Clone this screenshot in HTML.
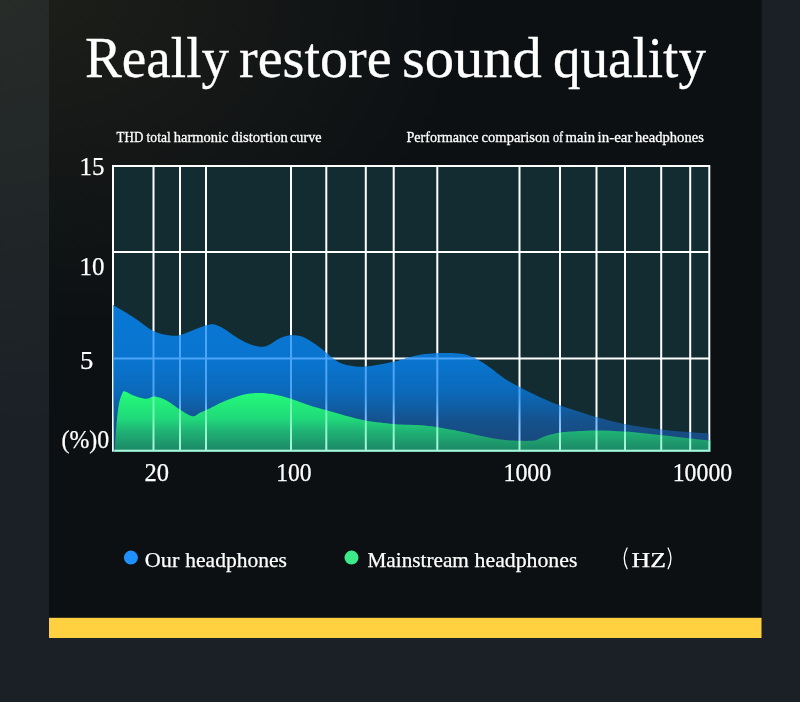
<!DOCTYPE html>
<html><head><meta charset="utf-8"><title>Really restore sound quality</title>
<style>
html,body{margin:0;padding:0;}
body{width:800px;height:702px;overflow:hidden;background:#1a2026;font-family:"Liberation Serif",serif;}
svg{display:block;}
text{font-family:"Liberation Serif",serif;fill:#fff;}
svg{will-change:transform;}
</style></head><body>
<svg width="800" height="702" viewBox="0 0 800 702">
<defs>
<radialGradient id="obg" cx="0" cy="0" r="1" gradientUnits="userSpaceOnUse" gradientTransform="translate(0 0) scale(400 430)">
<stop offset="0" stop-color="#272c29"/><stop offset="1" stop-color="#1a2026"/>
</radialGradient>
<radialGradient id="pbg" cx="0" cy="0" r="1" gradientUnits="userSpaceOnUse" gradientTransform="translate(49 0) scale(420 330)">
<stop offset="0" stop-color="#1c1e19"/><stop offset="1" stop-color="#0c1013"/>
</radialGradient>
<linearGradient id="bg" x1="0" y1="305" x2="0" y2="451" gradientUnits="userSpaceOnUse">
<stop offset="0" stop-color="#0878d6"/><stop offset="0.40" stop-color="#0974ce"/><stop offset="0.6" stop-color="#0b69b9"/><stop offset="0.8" stop-color="#15518c"/><stop offset="1" stop-color="#1a4676"/>
</linearGradient>
<linearGradient id="gg" x1="0" y1="392" x2="0" y2="451" gradientUnits="userSpaceOnUse">
<stop offset="0" stop-color="#23fb78"/><stop offset="0.45" stop-color="#20da7a"/><stop offset="0.65" stop-color="#1fb576"/><stop offset="0.85" stop-color="#1e9a6d"/><stop offset="1" stop-color="#1c8865"/>
</linearGradient>
<clipPath id="cb"><path d="M113.0 305.0 C116.5 307.1 127.4 313.4 134.2 317.8 C141.0 322.2 147.5 328.2 153.6 331.2 C159.7 334.1 166.1 334.9 170.5 335.5 C174.9 336.1 176.2 336.0 180.2 335.0 C184.2 334.0 190.3 331.1 194.7 329.5 C199.1 327.9 203.6 326.1 206.8 325.3 C210.0 324.5 211.3 324.0 214.1 324.6 C216.9 325.2 219.8 326.4 223.8 328.7 C227.8 331.0 233.5 335.6 238.3 338.4 C243.1 341.1 248.8 343.8 252.8 345.2 C256.8 346.6 259.7 346.9 262.5 346.8 C265.3 346.7 266.9 345.9 269.7 344.5 C272.5 343.1 275.8 339.9 279.4 338.4 C283.0 336.9 287.5 335.5 291.5 335.3 C295.5 335.1 299.6 335.7 303.6 337.2 C307.6 338.7 311.9 341.9 315.7 344.5 C319.5 347.1 323.0 350.1 326.6 352.9 C330.2 355.7 333.7 359.3 337.5 361.4 C341.3 363.5 345.2 364.6 349.6 365.5 C354.0 366.4 358.9 366.9 364.1 366.7 C369.3 366.5 375.4 365.3 381.0 364.3 C386.6 363.3 393.2 361.9 398.0 360.7 C402.8 359.5 405.6 358.4 410.0 357.3 C414.4 356.2 418.4 354.8 424.5 354.1 C430.6 353.4 439.8 352.9 446.3 352.9 C452.8 352.9 458.1 353.0 463.3 354.1 C468.6 355.2 473.4 357.5 477.8 359.7 C482.2 361.9 485.5 364.4 489.9 367.5 C494.3 370.6 499.6 375.2 504.4 378.4 C509.2 381.6 513.6 384.0 518.9 386.8 C524.1 389.6 529.8 392.5 535.9 395.3 C542.0 398.1 548.4 401.2 555.2 403.8 C562.0 406.4 570.0 408.8 576.9 411.0 C583.8 413.2 588.2 414.9 596.3 417.1 C604.4 419.3 614.5 422.2 625.4 424.3 C636.3 426.4 650.8 428.4 661.7 429.7 C672.6 431.0 682.9 431.7 690.7 432.3 C698.5 432.9 705.4 433.1 708.3 433.3 L708.3 452 L113 452 Z"/></clipPath>
<clipPath id="cg"><path d="M114.6 451.0 C114.7 449.2 115.0 444.2 115.3 440.0 C115.6 435.8 115.8 431.4 116.4 425.6 C117.0 419.8 117.8 410.3 118.7 405.0 C119.7 399.7 121.0 396.0 122.1 393.7 C123.1 391.4 123.1 391.1 125.0 391.4 C126.9 391.7 130.6 394.3 133.5 395.4 C136.4 396.5 140.1 397.7 142.6 398.2 C145.1 398.7 146.8 398.8 148.3 398.6 C149.8 398.4 150.5 397.4 151.8 397.1 C153.1 396.8 154.0 396.3 156.3 396.8 C158.6 397.3 161.7 397.9 165.7 400.1 C169.7 402.3 176.2 407.2 180.2 409.8 C184.2 412.4 187.5 414.4 189.9 415.4 C192.3 416.4 193.1 416.3 194.7 415.9 C196.3 415.5 197.6 414.0 199.6 413.0 C201.6 412.0 202.8 411.7 206.8 409.8 C210.8 407.9 217.8 403.9 223.8 401.4 C229.9 398.9 237.4 396.2 243.1 394.8 C248.8 393.4 252.9 393.0 257.7 392.9 C262.5 392.8 266.5 393.1 272.1 394.1 C277.7 395.1 285.4 397.1 291.5 398.9 C297.6 400.7 302.5 403.1 308.4 405.0 C314.2 406.9 320.6 408.6 326.6 410.3 C332.7 412.0 338.1 413.7 344.7 415.4 C351.3 417.1 358.4 419.3 366.5 420.7 C374.6 422.1 385.9 423.2 393.1 423.9 C400.4 424.6 404.8 424.5 410.0 424.8 C415.2 425.1 419.7 425.2 424.5 425.6 C429.3 426.1 433.4 426.6 439.0 427.5 C444.6 428.4 451.9 429.8 458.4 431.1 C464.9 432.4 471.4 433.9 477.8 435.2 C484.2 436.5 491.1 438.0 497.1 438.9 C503.2 439.8 508.0 440.3 514.1 440.6 C520.2 440.9 528.7 441.2 533.5 440.6 C538.3 440.0 539.5 438.1 543.1 436.9 C546.7 435.7 550.7 434.4 555.2 433.5 C559.7 432.6 563.1 432.1 570.0 431.6 C576.9 431.1 587.1 430.4 596.3 430.4 C605.5 430.4 614.5 430.8 625.4 431.6 C636.3 432.4 650.8 434.1 661.7 435.2 C672.6 436.3 682.6 437.5 690.7 438.4 C698.8 439.3 707.2 440.2 710.5 440.6 L710.5 452 L114.6 452 Z"/></clipPath>
<linearGradient id="bl" x1="0" y1="305" x2="0" y2="451" gradientUnits="userSpaceOnUse">
<stop offset="0" stop-color="#48a8ff"/><stop offset="0.62" stop-color="#4ea2f4"/><stop offset="0.83" stop-color="#86c2fc"/><stop offset="1" stop-color="#a8d4ff"/>
</linearGradient>
<linearGradient id="gl" x1="0" y1="392" x2="0" y2="451" gradientUnits="userSpaceOnUse">
<stop offset="0" stop-color="#5cf7a2"/><stop offset="1" stop-color="#aaf5da"/>
</linearGradient>
</defs>
<rect width="800" height="702" fill="#1a2026"/>
<rect width="800" height="702" fill="url(#obg)"/>
<rect x="49" y="0" width="712.5" height="618" fill="#0c1013"/>
<rect x="49" y="0" width="712.5" height="618" fill="url(#pbg)"/>
<rect x="49" y="617.8" width="712.5" height="20.2" fill="#ffd03f"/>

<g font-size="57.6" stroke="#fff" stroke-width="0.3">
<text x="85.04" y="77.2" textLength="144.09" lengthAdjust="spacingAndGlyphs">Really</text>
<text x="239.03" y="77.2" textLength="152.63" lengthAdjust="spacingAndGlyphs">restore</text>
<text x="401.97" y="77.2" textLength="139.85" lengthAdjust="spacingAndGlyphs">sound</text>
<text x="552.89" y="77.2" textLength="153.08" lengthAdjust="spacingAndGlyphs">quality</text>
</g>
<g font-size="15" stroke="#fff" stroke-width="0.3">
<text x="116.60" y="141.7" textLength="26.75" lengthAdjust="spacingAndGlyphs">THD</text>
<text x="146.60" y="141.7" textLength="24.10" lengthAdjust="spacingAndGlyphs">total</text>
<text x="173.80" y="141.7" textLength="54.67" lengthAdjust="spacingAndGlyphs">harmonic</text>
<text x="231.60" y="141.7" textLength="56.30" lengthAdjust="spacingAndGlyphs">distortion</text>
<text x="290.10" y="141.7" textLength="31.39" lengthAdjust="spacingAndGlyphs">curve</text>
<text x="406.40" y="141.7" textLength="72.26" lengthAdjust="spacingAndGlyphs">Performance</text>
<text x="481.60" y="141.7" textLength="67.98" lengthAdjust="spacingAndGlyphs">comparison</text>
<text x="553.00" y="141.7" textLength="10.19" lengthAdjust="spacingAndGlyphs">of</text>
<text x="565.60" y="141.7" textLength="29.40" lengthAdjust="spacingAndGlyphs">main</text>
<text x="597.60" y="141.7" textLength="34.78" lengthAdjust="spacingAndGlyphs">in-ear</text>
<text x="635.00" y="141.7" textLength="68.82" lengthAdjust="spacingAndGlyphs">headphones</text>
</g>

<rect x="113" y="166" width="596.3" height="284.7" fill="#122c32"/>
<g id="grid" stroke-width="2" fill="none">
<line x1="153.5" y1="166" x2="153.5" y2="450.7"/><line x1="180.0" y1="166" x2="180.0" y2="450.7"/><line x1="206.0" y1="166" x2="206.0" y2="450.7"/><line x1="291.0" y1="166" x2="291.0" y2="450.7"/><line x1="326.3" y1="166" x2="326.3" y2="450.7"/><line x1="365.8" y1="166" x2="365.8" y2="450.7"/><line x1="393.7" y1="166" x2="393.7" y2="450.7"/><line x1="437.3" y1="166" x2="437.3" y2="450.7"/><line x1="519.5" y1="166" x2="519.5" y2="450.7"/><line x1="560.0" y1="166" x2="560.0" y2="450.7"/><line x1="596.5" y1="166" x2="596.5" y2="450.7"/><line x1="625.0" y1="166" x2="625.0" y2="450.7"/><line x1="661.2" y1="166" x2="661.2" y2="450.7"/><line x1="690.2" y1="166" x2="690.2" y2="450.7"/><line x1="113" y1="252.0" x2="709.3" y2="252.0"/><line x1="113" y1="358.6" x2="709.3" y2="358.6"/>
<rect x="113" y="166" width="596.3" height="284.7"/>
</g>
<use href="#grid" stroke="#fff"/>
<path d="M113.0 305.0 C116.5 307.1 127.4 313.4 134.2 317.8 C141.0 322.2 147.5 328.2 153.6 331.2 C159.7 334.1 166.1 334.9 170.5 335.5 C174.9 336.1 176.2 336.0 180.2 335.0 C184.2 334.0 190.3 331.1 194.7 329.5 C199.1 327.9 203.6 326.1 206.8 325.3 C210.0 324.5 211.3 324.0 214.1 324.6 C216.9 325.2 219.8 326.4 223.8 328.7 C227.8 331.0 233.5 335.6 238.3 338.4 C243.1 341.1 248.8 343.8 252.8 345.2 C256.8 346.6 259.7 346.9 262.5 346.8 C265.3 346.7 266.9 345.9 269.7 344.5 C272.5 343.1 275.8 339.9 279.4 338.4 C283.0 336.9 287.5 335.5 291.5 335.3 C295.5 335.1 299.6 335.7 303.6 337.2 C307.6 338.7 311.9 341.9 315.7 344.5 C319.5 347.1 323.0 350.1 326.6 352.9 C330.2 355.7 333.7 359.3 337.5 361.4 C341.3 363.5 345.2 364.6 349.6 365.5 C354.0 366.4 358.9 366.9 364.1 366.7 C369.3 366.5 375.4 365.3 381.0 364.3 C386.6 363.3 393.2 361.9 398.0 360.7 C402.8 359.5 405.6 358.4 410.0 357.3 C414.4 356.2 418.4 354.8 424.5 354.1 C430.6 353.4 439.8 352.9 446.3 352.9 C452.8 352.9 458.1 353.0 463.3 354.1 C468.6 355.2 473.4 357.5 477.8 359.7 C482.2 361.9 485.5 364.4 489.9 367.5 C494.3 370.6 499.6 375.2 504.4 378.4 C509.2 381.6 513.6 384.0 518.9 386.8 C524.1 389.6 529.8 392.5 535.9 395.3 C542.0 398.1 548.4 401.2 555.2 403.8 C562.0 406.4 570.0 408.8 576.9 411.0 C583.8 413.2 588.2 414.9 596.3 417.1 C604.4 419.3 614.5 422.2 625.4 424.3 C636.3 426.4 650.8 428.4 661.7 429.7 C672.6 431.0 682.9 431.7 690.7 432.3 C698.5 432.9 705.4 433.1 708.3 433.3 L708.3 452 L113 452 Z" fill="url(#bg)"/>
<use href="#grid" stroke="url(#bl)" clip-path="url(#cb)"/>
<path d="M114.6 451.0 C114.7 449.2 115.0 444.2 115.3 440.0 C115.6 435.8 115.8 431.4 116.4 425.6 C117.0 419.8 117.8 410.3 118.7 405.0 C119.7 399.7 121.0 396.0 122.1 393.7 C123.1 391.4 123.1 391.1 125.0 391.4 C126.9 391.7 130.6 394.3 133.5 395.4 C136.4 396.5 140.1 397.7 142.6 398.2 C145.1 398.7 146.8 398.8 148.3 398.6 C149.8 398.4 150.5 397.4 151.8 397.1 C153.1 396.8 154.0 396.3 156.3 396.8 C158.6 397.3 161.7 397.9 165.7 400.1 C169.7 402.3 176.2 407.2 180.2 409.8 C184.2 412.4 187.5 414.4 189.9 415.4 C192.3 416.4 193.1 416.3 194.7 415.9 C196.3 415.5 197.6 414.0 199.6 413.0 C201.6 412.0 202.8 411.7 206.8 409.8 C210.8 407.9 217.8 403.9 223.8 401.4 C229.9 398.9 237.4 396.2 243.1 394.8 C248.8 393.4 252.9 393.0 257.7 392.9 C262.5 392.8 266.5 393.1 272.1 394.1 C277.7 395.1 285.4 397.1 291.5 398.9 C297.6 400.7 302.5 403.1 308.4 405.0 C314.2 406.9 320.6 408.6 326.6 410.3 C332.7 412.0 338.1 413.7 344.7 415.4 C351.3 417.1 358.4 419.3 366.5 420.7 C374.6 422.1 385.9 423.2 393.1 423.9 C400.4 424.6 404.8 424.5 410.0 424.8 C415.2 425.1 419.7 425.2 424.5 425.6 C429.3 426.1 433.4 426.6 439.0 427.5 C444.6 428.4 451.9 429.8 458.4 431.1 C464.9 432.4 471.4 433.9 477.8 435.2 C484.2 436.5 491.1 438.0 497.1 438.9 C503.2 439.8 508.0 440.3 514.1 440.6 C520.2 440.9 528.7 441.2 533.5 440.6 C538.3 440.0 539.5 438.1 543.1 436.9 C546.7 435.7 550.7 434.4 555.2 433.5 C559.7 432.6 563.1 432.1 570.0 431.6 C576.9 431.1 587.1 430.4 596.3 430.4 C605.5 430.4 614.5 430.8 625.4 431.6 C636.3 432.4 650.8 434.1 661.7 435.2 C672.6 436.3 682.6 437.5 690.7 438.4 C698.8 439.3 707.2 440.2 710.5 440.6 L710.5 452 L114.6 452 Z" fill="url(#gg)"/>
<use href="#grid" stroke="url(#gl)" clip-path="url(#cg)"/>

<g font-size="25.5" stroke="#fff" stroke-width="0.25">
<text x="79.54" y="175.0" textLength="24.95" lengthAdjust="spacingAndGlyphs">15</text>
<text x="79.54" y="275.3" textLength="24.95" lengthAdjust="spacingAndGlyphs">10</text>
<text x="79.95" y="368.5" textLength="13.33" lengthAdjust="spacingAndGlyphs">5</text>
<text x="61.46" y="448.0" textLength="47.76" lengthAdjust="spacingAndGlyphs">(%)0</text>
<text x="144.54" y="481.0" textLength="24.54" lengthAdjust="spacingAndGlyphs">20</text>
<text x="276.25" y="481.0" textLength="35.38" lengthAdjust="spacingAndGlyphs">100</text>
<text x="503.42" y="481.0" textLength="47.92" lengthAdjust="spacingAndGlyphs">1000</text>
<text x="672.73" y="481.0" textLength="59.47" lengthAdjust="spacingAndGlyphs">10000</text>
</g>

<circle cx="130.9" cy="557.6" r="7" fill="#1e90ff"/>
<circle cx="351.5" cy="557.6" r="7" fill="#3dea8a"/>
<g font-size="21.7" stroke="#fff" stroke-width="0.25">
<text x="144.88" y="566.5" textLength="34.45" lengthAdjust="spacingAndGlyphs">Our</text>
<text x="185.30" y="566.5" textLength="101.59" lengthAdjust="spacingAndGlyphs">headphones</text>
<text x="367.50" y="566.5" textLength="101.38" lengthAdjust="spacingAndGlyphs">Mainstream</text>
<text x="474.60" y="566.5" textLength="102.79" lengthAdjust="spacingAndGlyphs">headphones</text>
<text x="631.50" y="566.5" textLength="34.40" lengthAdjust="spacingAndGlyphs">HZ</text>
</g>
<g stroke="#fff" stroke-width="1.3" fill="none" stroke-linecap="round">
<path d="M627.1 548 Q621.3 558.4 627.1 568.8"/>
<path d="M668.1 548 Q673.9 558.4 668.1 568.8"/>
</g>
</svg>
</body></html>
